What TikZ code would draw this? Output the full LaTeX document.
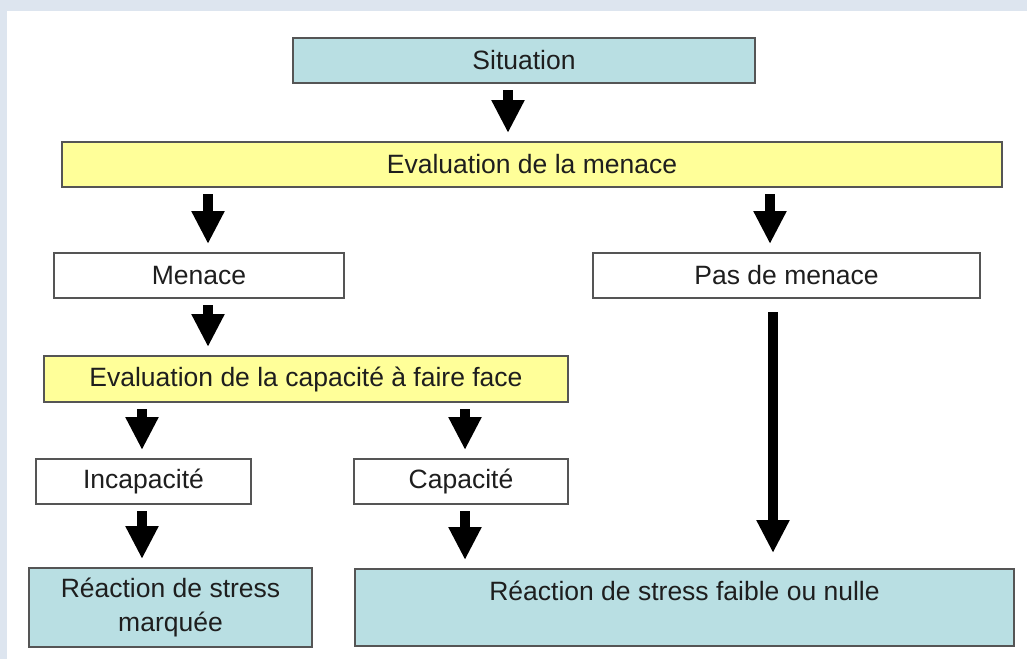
\documentclass[tikz,border=0pt]{standalone}
\usepackage{fontspec}
\setmainfont{Liberation Sans}
\usetikzlibrary{arrows.meta}
\definecolor{bluebox}{RGB}{185,223,227}
\definecolor{yellowbox}{RGB}{255,255,153}
\definecolor{edge}{RGB}{85,85,85}
\definecolor{frame}{RGB}{221,229,239}
\definecolor{ink}{RGB}{30,30,30}
\begin{document}
\begin{tikzpicture}[x=1pt,y=-1pt,
        box/.style={draw=edge,line width=1.3pt,inner sep=0pt,outer sep=0pt,
        text=ink,align=center,minimum height=45pt,
        font=\fontsize{26.5}{34}\selectfont},
        situbox/.style={box,fill=bluebox},
        evalbox/.style={box,fill=yellowbox},
        plainbox/.style={box,fill=white},
        fleche/.style={draw=black,line width=10pt,
        -{Triangle[width=31pt,length=33pt]},shorten <=7pt,shorten >=9pt}]
        \fill[frame] (0,0) rectangle (1027,659);
        \fill[white] (7,11) rectangle (1027,659);

        \node[situbox,minimum width=462pt] (sit) at (524,60.5) {Situation};
        \node[evalbox,minimum width=940pt] (evmen) at (532,164.5) {Evaluation de la menace};
        \node[plainbox,minimum width=290pt] (men) at (199,275.5) {Menace};
        \node[plainbox,minimum width=387pt] (pas) at (786.5,275.5) {Pas de menace};
        \node[evalbox,minimum width=524pt,minimum height=46pt] (evcap) at (306,379)
            {Evaluation de la capacit\'e \`a faire face};
        \node[plainbox,minimum width=215pt] (incap) at (143.5,481.5) {Incapacit\'e};
        \node[plainbox,minimum width=214pt] (cap) at (461,481.5) {Capacit\'e};
        \node[situbox,minimum width=283pt,minimum height=79pt] (marq) at (170.5,607.5)
            {R\'eaction de stress\\marqu\'ee};
        \node[situbox,minimum width=659pt,minimum height=77pt] (faib) at (684.5,607.5)
            {R\'eaction de stress faible ou nulle\\\mbox{}};

        \foreach \x/\a/\b in {508/sit/evmen, 208/evmen/men, 770/evmen/pas,
            208/men/evcap, 142/evcap/incap, 465/evcap/cap,
            142/incap/marq, 465/cap/faib}{
            \draw[fleche] (\x,0 |- \a.south) -- (\x,0 |- \b.north);
        }
        \draw[fleche,shorten <=14pt,shorten >=16pt] (773,0 |- pas.south) -- (773,0 |- faib.north);
    \end{tikzpicture}
\end{document}
